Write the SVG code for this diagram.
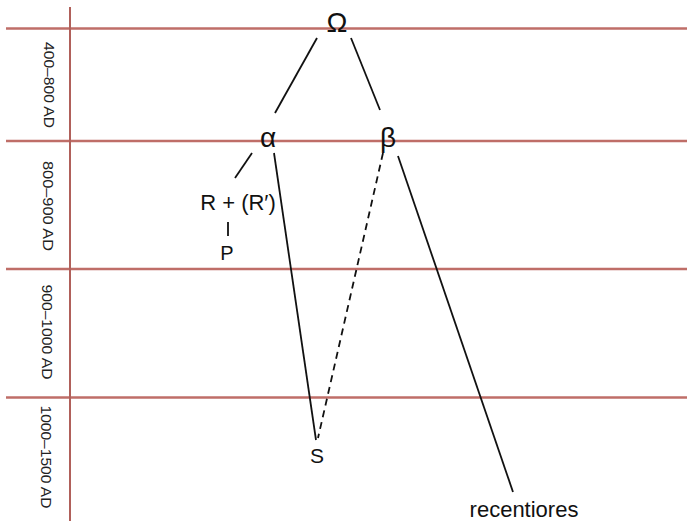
<svg xmlns="http://www.w3.org/2000/svg" width="687" height="521" viewBox="0 0 687 521">
<style>
.grid{stroke:#bf6e68;stroke-width:2.6;fill:none}
.vgrid{stroke:#b0605a;stroke-width:2;fill:none}
.edge{stroke:#111;stroke-width:1.8;fill:none}
.dash{stroke-dasharray:7 5}
.lbl{font-family:"Liberation Sans",Arial,sans-serif;fill:#111;text-anchor:middle}
.era{font-family:"Liberation Sans",Arial,sans-serif;font-size:15px;fill:#222;text-anchor:middle;dominant-baseline:central}
</style>
<rect width="687" height="521" fill="#fff"/>
<g id="grid">
<line class="grid" x1="6" y1="28.5" x2="687" y2="28.5"/>
<line class="grid" x1="6" y1="141" x2="687" y2="141"/>
<line class="grid" x1="6" y1="269" x2="687" y2="269"/>
<line class="grid" x1="6" y1="397.5" x2="687" y2="397.5"/>
<line class="vgrid" x1="70" y1="7" x2="70" y2="521"/>
</g>
<g id="eras">
<text class="era" transform="translate(49,85) rotate(90)" textLength="86" lengthAdjust="spacingAndGlyphs">400–800 AD</text>
<text class="era" transform="translate(48,206) rotate(90)" textLength="90" lengthAdjust="spacingAndGlyphs">800–900 AD</text>
<text class="era" transform="translate(47,332) rotate(90)" textLength="95" lengthAdjust="spacingAndGlyphs">900–1000 AD</text>
<text class="era" transform="translate(46,457) rotate(90)" textLength="103" lengthAdjust="spacingAndGlyphs">1000–1500 AD</text>
</g>
<g id="connectors">
<line class="edge" x1="317" y1="38" x2="275" y2="113"/>
<line class="edge" x1="351" y1="38" x2="380" y2="110"/>
<line class="edge" x1="252" y1="153" x2="235" y2="178"/>
<line class="edge" x1="228" y1="222" x2="228" y2="236"/>
<line class="edge" x1="274" y1="153" x2="316" y2="440"/>
<line class="edge dash" x1="383" y1="153" x2="318" y2="438"/>
<line class="edge" x1="398" y1="156" x2="513" y2="492"/>
</g>
<g id="node-omega"><text class="lbl" x="337" y="32" font-size="28">Ω</text></g>
<g id="node-alpha"><text class="lbl" x="268" y="147" font-size="28">α</text></g>
<g id="node-beta"><text class="lbl" x="388" y="147" font-size="28">β</text></g>
<g id="node-R"><text class="lbl" x="238" y="210" font-size="22">R + (R′)</text></g>
<g id="node-P"><text class="lbl" x="227" y="260" font-size="20">P</text></g>
<g id="node-S"><text class="lbl" x="317" y="463" font-size="21">S</text></g>
<g id="node-recentiores"><text class="lbl" x="524" y="517" font-size="22">recentiores</text></g>
</svg>
